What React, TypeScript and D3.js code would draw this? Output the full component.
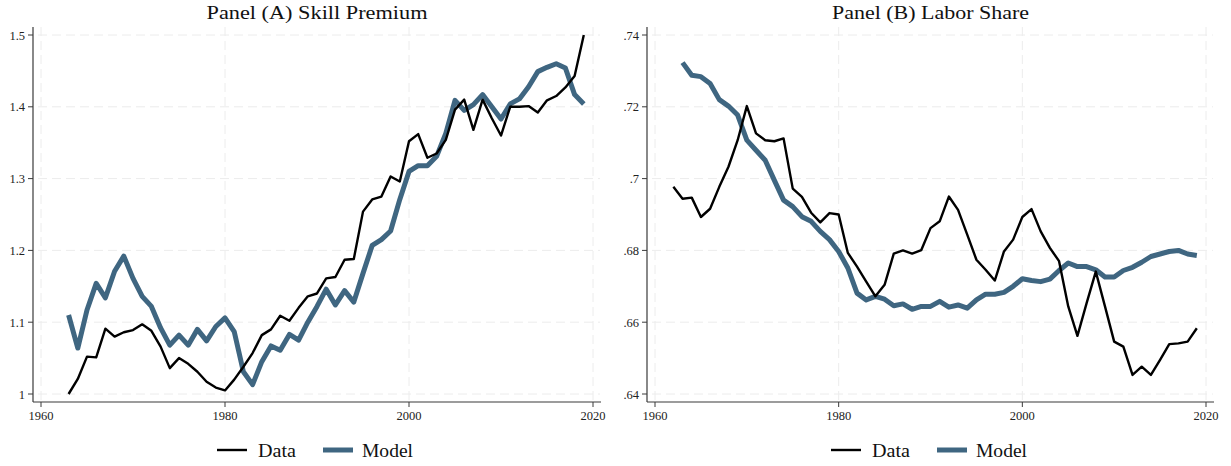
import React from "react";
import * as d3 from "d3";

const yearsA = d3.range(1963, 2020);
const dataA = [1.000, 1.021, 1.052, 1.051, 1.091, 1.080, 1.086, 1.089, 1.097, 1.088, 1.066, 1.036, 1.050, 1.042, 1.031, 1.017, 1.009, 1.005, 1.020, 1.038, 1.057, 1.082, 1.090, 1.109, 1.102, 1.120, 1.136, 1.140, 1.161, 1.163, 1.187, 1.188, 1.254, 1.271, 1.275, 1.303, 1.296, 1.352, 1.362, 1.329, 1.335, 1.354, 1.396, 1.410, 1.368, 1.410, 1.384, 1.360, 1.400, 1.400, 1.401, 1.392, 1.409, 1.415, 1.427, 1.443, 1.500];
const modelA = [1.110, 1.064, 1.117, 1.154, 1.134, 1.171, 1.192, 1.161, 1.136, 1.122, 1.092, 1.068, 1.082, 1.068, 1.090, 1.074, 1.094, 1.106, 1.087, 1.031, 1.013, 1.045, 1.067, 1.061, 1.083, 1.075, 1.100, 1.122, 1.146, 1.124, 1.144, 1.128, 1.168, 1.207, 1.215, 1.227, 1.271, 1.310, 1.318, 1.318, 1.331, 1.363, 1.409, 1.395, 1.403, 1.417, 1.400, 1.383, 1.404, 1.411, 1.428, 1.449, 1.455, 1.460, 1.454, 1.417, 1.404];

const yearsBData = d3.range(1962, 2020);
const dataB = [0.6977, 0.6944, 0.6947, 0.6893, 0.6916, 0.6977, 0.7033, 0.7107, 0.7202, 0.7126, 0.7107, 0.7104, 0.7112, 0.6972, 0.6949, 0.6905, 0.6878, 0.6904, 0.6900, 0.6793, 0.6755, 0.6713, 0.6672, 0.6704, 0.6791, 0.6800, 0.6791, 0.6801, 0.6862, 0.6881, 0.6950, 0.6913, 0.6844, 0.6774, 0.6746, 0.6716, 0.6797, 0.6830, 0.6893, 0.6915, 0.6853, 0.6807, 0.6770, 0.6644, 0.6562, 0.6653, 0.6741, 0.6644, 0.6546, 0.6532, 0.6453, 0.6476, 0.6453, 0.6495, 0.6539, 0.6541, 0.6546, 0.6583];
const yearsBModel = d3.range(1963, 2020);
const modelB = [0.7323, 0.7288, 0.7284, 0.7265, 0.7220, 0.7202, 0.7177, 0.7107, 0.7079, 0.7051, 0.6995, 0.6940, 0.6922, 0.6894, 0.6881, 0.6853, 0.6830, 0.6797, 0.6751, 0.6681, 0.6662, 0.6672, 0.6664, 0.6646, 0.6651, 0.6636, 0.6644, 0.6644, 0.6658, 0.6642, 0.6648, 0.6639, 0.6662, 0.6678, 0.6678, 0.6683, 0.6700, 0.6721, 0.6716, 0.6713, 0.6720, 0.6744, 0.6765, 0.6755, 0.6755, 0.6746, 0.6726, 0.6726, 0.6744, 0.6753, 0.6767, 0.6783, 0.6790, 0.6797, 0.6800, 0.6790, 0.6786];

const xTicks = [1960, 1980, 2000, 2020];
const yTicksA = [1, 1.1, 1.2, 1.3, 1.4, 1.5];
const yTicksB = [0.64, 0.66, 0.68, 0.7, 0.72, 0.74];
const seriesNames = ["Data", "Model"];

const FONT = "'Liberation Serif', 'Times New Roman', serif";
const BLUE = "#3f6681";
const GRID = "#ececec";
const AXIS = "#3a3a3a";

type PanelProps = {
  title: string;
  titleLen: number;
  x0: number;
  x1: number;
  axisLeft: number;
  axisRight: number;
  yDomain: [number, number];
  yTicks: number[];
  yFmt: (v: number) => string;
  dataYears: number[];
  dataVals: number[];
  modelYears: number[];
  modelVals: number[];
  legendX: number;
};

function Panel(p: PanelProps) {
  const x = d3.scaleLinear().domain([1960, 2020]).range([p.x0, p.x1]);
  const y = d3.scaleLinear().domain(p.yDomain).range([394, 35]);
  const top = 27;
  const bottom = 402;
  const line = (ys: number[], vs: number[]) =>
    d3.line<number>().x((_, i) => x(ys[i])).y((v) => y(v))(vs) || "";
  const cx = (p.axisLeft + p.axisRight) / 2;
  const lx = p.legendX;
  return (
    <g>
      <text x={cx} y={19} textAnchor="middle" fontFamily={FONT} fontSize={19.5} textLength={p.titleLen} lengthAdjust="spacingAndGlyphs" fill="#111">
        {p.title}
      </text>
      {p.yTicks.map((t) => (
        <line key={"gy" + t} x1={p.axisLeft + 5} x2={p.axisRight - 1} y1={y(t)} y2={y(t)} stroke={GRID} strokeWidth={1} strokeDasharray="9,5" />
      ))}
      {xTicks.map((t) => (
        <line key={"gx" + t} x1={x(t)} x2={x(t)} y1={top} y2={bottom - 2} stroke={GRID} strokeWidth={1} strokeDasharray="9,5" />
      ))}
      <line x1={p.axisLeft} x2={p.axisLeft} y1={top} y2={bottom} stroke={AXIS} strokeWidth={1.2} />
      <line x1={p.axisLeft} x2={p.axisRight} y1={bottom} y2={bottom} stroke={AXIS} strokeWidth={1.2} />
      {p.yTicks.map((t) => (
        <g key={"ty" + t}>
          <line x1={p.axisLeft - 5} x2={p.axisLeft} y1={y(t)} y2={y(t)} stroke={AXIS} strokeWidth={1} />
          <text x={p.axisLeft - 8} y={y(t) + 4.5} textAnchor="end" fontFamily={FONT} fontSize={12.5} fill="#222">
            {p.yFmt(t)}
          </text>
        </g>
      ))}
      {xTicks.map((t) => (
        <g key={"tx" + t}>
          <line x1={x(t)} x2={x(t)} y1={bottom} y2={bottom + 5} stroke={AXIS} strokeWidth={1} />
          <text x={x(t)} y={420} textAnchor="middle" fontFamily={FONT} fontSize={12.5} fill="#222">
            {t}
          </text>
        </g>
      ))}
      <path d={line(p.modelYears, p.modelVals)} fill="none" stroke={BLUE} strokeWidth={5} strokeLinejoin="round" />
      <path d={line(p.dataYears, p.dataVals)} fill="none" stroke="#000" strokeWidth={2.4} strokeLinejoin="round" />
      <line x1={lx} x2={lx + 30} y1={450} y2={450} stroke="#000" strokeWidth={2.4} />
      <text x={lx + 41} y={457} fontFamily={FONT} fontSize={18} textLength={38} lengthAdjust="spacingAndGlyphs" fill="#111">
        {seriesNames[0]}
      </text>
      <line x1={lx + 106} x2={lx + 136} y1={450} y2={450} stroke={BLUE} strokeWidth={5} />
      <text x={lx + 145} y={457} fontFamily={FONT} fontSize={18} textLength={51} lengthAdjust="spacingAndGlyphs" fill="#111">
        {seriesNames[1]}
      </text>
    </g>
  );
}

export default function App() {
  const fmtA = (v: number) => (Math.abs(v - 1) < 1e-9 ? "1" : d3.format(".1f")(v));
  const fmtB = (v: number) => {
    const s = d3.format(".2f")(v).replace(/^0/, "");
    return s.endsWith("0") ? s.slice(0, -1) : s;
  };
  return (
    <svg width={1231} height={466} style={{ position: "absolute", left: 0, top: 0, background: "#fff" }}>
      <rect x={0} y={0} width={1231} height={466} fill="#fff" />
      <Panel
        title="Panel (A) Skill Premium"
        titleLen={221}
        x0={41}
        x1={593}
        axisLeft={33}
        axisRight={601}
        yDomain={[1, 1.5]}
        yTicks={yTicksA}
        yFmt={fmtA}
        dataYears={yearsA}
        dataVals={dataA}
        modelYears={yearsA}
        modelVals={modelA}
        legendX={217}
      />
      <Panel
        title="Panel (B) Labor Share"
        titleLen={197}
        x0={655}
        x1={1206}
        axisLeft={647}
        axisRight={1214}
        yDomain={[0.64, 0.74]}
        yTicks={yTicksB}
        yFmt={fmtB}
        dataYears={yearsBData}
        dataVals={dataB}
        modelYears={yearsBModel}
        modelVals={modelB}
        legendX={831}
      />
    </svg>
  );
}
